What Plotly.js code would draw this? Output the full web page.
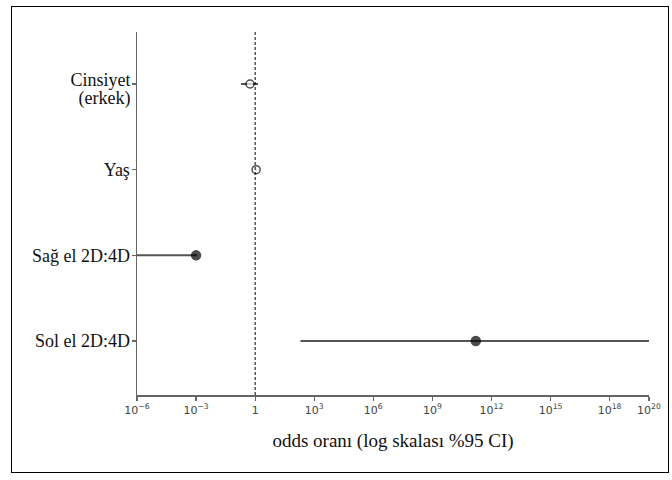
<!DOCTYPE html>
<html>
<head>
<meta charset="utf-8">
<script src="https://cdn.plot.ly/plotly-3.0.1.min.js"></script>
<style>
  html, body { margin: 0; padding: 0; background: #fff; }
  #wrap { position: relative; width: 672px; height: 480px; }
  #chart { position: absolute; left: 0; top: 0; width: 672px; height: 480px; }
  #frame { position: absolute; left: 11px; top: 6px; width: 656px; height: 465px; border: 1.5px solid #000; pointer-events: none; }
</style>
</head>
<body>
<div id="wrap">
  <div id="chart"></div>
  <div id="frame"></div>
</div>
<script>
// Data (odds ratios, 95% CI)
const categories = ["Sol el 2D:4D", "Sağ el 2D:4D", "Yaş", "Cinsiyet (erkek)"];
const oddsRatio  = [1.6e11, 1.0e-3, 1.12, 0.55];
const ciLower    = [2.0e2, 1.0e-9, 1.05, 0.19];
const ciUpper    = [1.0e20, 1.1e-3, 1.2, 1.4];
const significant = [true, true, false, false];
const xTickVals  = [1e-6, 1e-3, 1, 1e3, 1e6, 1e9, 1e12, 1e15, 1e18, 1e20];
const xTickText  = ["10<sup>−6</sup>", "10<sup>−3</sup>", "1", "10<sup>3</sup>", "10<sup>6</sup>",
                    "10<sup>9</sup>", "10<sup>12</sup>", "10<sup>15</sup>", "10<sup>18</sup>", "10<sup>20</sup>"];
const xTitle = "odds oranı (log skalası %95 CI)";

const yPos = categories.map((c, i) => i);
// Labels wrapped onto two lines are drawn on an overlay axis, one line per tick
const mainText = [], wrapVals = [], wrapText = [];
categories.forEach((c, i) => {
  const m = c.match(/^(.*) (\(.*\))$/);
  if (m) {
    mainText.push("");
    wrapVals.push(yPos[i] + 0.05, yPos[i] - 0.165);
    wrapText.push(m[1], m[2]);
  } else {
    mainText.push(c);
  }
});

const traces = [];
categories.forEach((c, i) => {
  traces.push({
    type: "scatter", mode: "lines",
    x: [ciLower[i], ciUpper[i]], y: [yPos[i], yPos[i]],
    line: { color: "#555", width: 2 },
    hoverinfo: "skip", showlegend: false
  });
});
traces.push({
  type: "scatter", mode: "markers",
  x: oddsRatio, y: yPos,
  marker: {
    symbol: "circle",
    size: significant.map(s => s ? 9 : 8),
    color: significant.map(s => s ? "#000" : "#fff"),
    line: { color: "#000", width: 1.5 }
  },
  showlegend: false
});
traces.push({ type: "scatter", mode: "markers", x: [], y: [], yaxis: "y2", showlegend: false });

const yRange = [-0.63, 3.607];
const catFont = { family: "Liberation Serif", size: 18, color: "#111" };
const layout = {
  width: 672, height: 480,
  margin: { l: 137, r: 23, t: 32, b: 85 },
  paper_bgcolor: "#fff", plot_bgcolor: "#fff",
  showlegend: false,
  xaxis: {
    type: "log",
    range: [-6, 20],
    tickmode: "array", tickvals: xTickVals, ticktext: xTickText,
    showgrid: false, zeroline: false,
    showline: true, linecolor: "#666", linewidth: 1.5,
    ticks: "outside", ticklen: 4, tickcolor: "#666", tickwidth: 1.2,
    tickfont: { family: "DejaVu Sans", size: 11, color: "#444" },
    title: { text: xTitle, font: { family: "Liberation Serif", size: 19, color: "#111" }, standoff: 18 }
  },
  yaxis: {
    range: yRange,
    tickmode: "array", tickvals: yPos, ticktext: mainText,
    showgrid: false, zeroline: false,
    showline: true, linecolor: "#666", linewidth: 1.5,
    ticks: "outside", ticklen: 4, tickcolor: "#666", tickwidth: 1.2,
    ticklabelstandoff: -2,
    tickfont: catFont
  },
  yaxis2: {
    overlaying: "y", side: "left",
    range: yRange,
    tickmode: "array", tickvals: wrapVals, ticktext: wrapText,
    showgrid: false, zeroline: false, showline: false,
    ticks: "outside", ticklen: 4, tickcolor: "rgba(0,0,0,0)",
    ticklabelstandoff: -2,
    tickfont: catFont
  },
  shapes: [{
    type: "line", xref: "x", yref: "paper",
    x0: 1, x1: 1, y0: 0, y1: 1,
    line: { color: "#000", width: 1, dash: "3px,2px" }
  }]
};

Plotly.newPlot("chart", traces, layout, { displayModeBar: false, staticPlot: true });
</script>
</body>
</html>
